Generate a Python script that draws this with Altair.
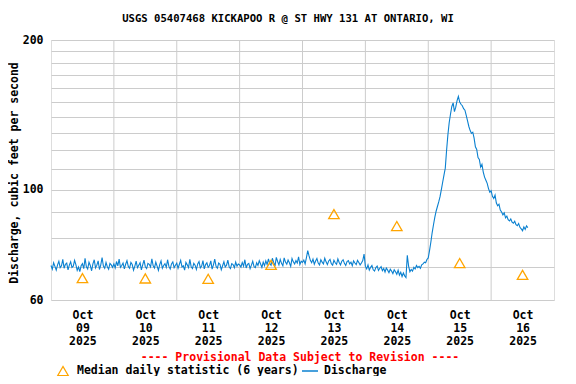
import altair as alt
import pandas as pd

# Half-hourly discharge values (cfs), each list starts at 00:00 of its day
oct09 = [70.4, 69.2, 71.3, 70.1, 68.9, 70.6, 71.8, 69.7, 70.3, 72.4, 69.5, 70.8,
         71.2, 69.0, 70.5, 71.6, 69.8, 70.2, 72.1, 70.7, 68.8, 69.9, 68.4, 70.3,
         71.0, 69.4, 72.8, 70.0, 69.3, 71.5, 70.4, 68.7, 70.9, 72.3, 69.6, 70.5,
         71.9, 69.1, 70.6, 73.0, 70.2, 69.5, 71.4, 70.0, 69.2, 71.1, 70.6, 69.8]
oct10 = [70.9, 69.6, 71.7, 70.3, 72.5, 69.8, 70.4, 71.2, 69.3, 70.8, 72.0, 70.1,
         69.5, 71.4, 70.7, 68.9, 70.2, 71.8, 69.7, 70.5, 71.3, 69.0, 70.6, 72.2,
         70.0, 69.4, 71.1, 70.8, 69.9, 72.6, 70.3, 69.6, 71.5, 70.2, 68.8, 70.7,
         71.9, 69.5, 70.4, 71.0, 69.8, 72.3, 70.1, 69.3, 70.9, 71.6, 69.7, 70.5]
oct11 = [71.2, 69.5, 70.8, 72.1, 69.9, 70.3, 68.9, 71.4, 70.6, 69.7, 72.4, 70.0,
         69.4, 71.1, 70.5, 69.1, 70.9, 71.7, 69.6, 70.2, 72.0, 69.3, 70.7, 71.3,
         69.8, 70.4, 71.9, 69.2, 70.6, 72.5, 70.1, 69.5, 71.2, 70.8, 69.0, 70.3,
         71.6, 69.9, 70.5, 72.2, 70.0, 69.4, 71.0, 70.7, 69.7, 71.5, 70.2, 70.9]
oct12 = [70.6, 69.9, 71.4, 70.2, 72.3, 69.6, 70.8, 71.1, 69.4, 70.5, 71.8, 70.0,
         69.7, 71.3, 70.4, 72.0, 70.9, 69.8, 71.5, 70.3, 71.9, 70.7, 72.6, 71.0,
         70.5, 72.8, 71.4, 70.2, 73.1, 71.7, 70.6, 72.4, 71.1, 70.3, 72.9, 71.5,
         70.8, 72.2, 71.3, 70.1, 72.7, 71.6, 70.9, 72.0, 71.2, 73.3, 70.7, 71.8]
oct13 = [71.4, 72.2, 70.9, 73.0, 75.4, 73.6, 72.1, 71.3, 72.5, 70.8, 71.9, 72.7,
         71.2, 70.6, 72.3, 71.5, 70.9, 72.8, 71.6, 70.7, 71.9, 72.4, 71.0, 70.5,
         72.1, 71.3, 70.8, 72.6, 71.4, 70.6, 71.8, 72.3, 71.1, 70.4, 71.7, 72.0,
         70.9, 71.5, 70.3, 71.9, 71.2, 70.7, 72.1, 71.4, 70.6, 71.2, 72.0, 74.2]
oct14 = [70.1, 69.3, 70.6, 68.9, 69.8, 70.4, 69.0, 68.6, 69.7, 70.2, 68.8, 69.5,
         70.0, 68.7, 69.4, 68.3, 69.6, 68.9, 68.1, 69.2, 68.6, 67.8, 69.0, 68.4,
         67.6, 68.9, 67.3, 68.2, 66.9, 68.0, 67.1, 66.6, 73.8, 70.2, 68.4, 69.1,
         68.6, 69.8, 69.3, 70.4, 69.7, 70.1, 69.5, 70.6, 70.9, 71.5, 71.3, 72.4]
oct15 = [72.9, 75.5, 78.5, 82.0, 85.0, 88.0, 90.5, 92.5, 94.5, 96.8, 100.0, 103.5,
         107.0, 110.5, 120.0, 129.0, 136.5, 142.0, 147.0, 149.5, 143.5, 146.5, 151.0, 154.0,
         150.0, 148.5, 147.5, 145.5, 144.5, 141.0, 137.5, 134.0, 131.5, 129.8, 130.5, 127.0,
         122.0, 120.5, 116.0, 115.0, 111.0, 112.5, 108.5, 106.0, 104.5, 103.0, 100.5, 98.8]
oct16 = [99.5, 97.0, 96.0, 97.5, 94.0, 92.8, 93.5, 91.0, 90.2, 89.0, 89.8, 87.8,
         88.5, 87.0, 86.5, 87.3, 86.0, 85.6, 86.4, 85.0, 84.6, 85.5, 84.0, 83.4,
         82.7, 84.2, 83.2, 84.6, 83.9]
day_starts = ["2025-10-09", "2025-10-10", "2025-10-11", "2025-10-12",
              "2025-10-13", "2025-10-14", "2025-10-15", "2025-10-16"]
day_values = [oct09, oct10, oct11, oct12, oct13, oct14, oct15, oct16]

# Median daily statistic (6 years), plotted at noon each day
median_days = ["2025-10-09", "2025-10-10", "2025-10-11", "2025-10-12",
               "2025-10-13", "2025-10-14", "2025-10-15", "2025-10-16"]
median_vals = [66.4, 66.3, 66.2, 70.6, 89.3, 84.5, 71.2, 67.4]

grid_days = ["2025-10-10", "2025-10-11", "2025-10-12", "2025-10-13",
             "2025-10-14", "2025-10-15", "2025-10-16"]
y_ticks = [60, 70, 80, 90, 100, 110, 120, 130, 140, 150, 160, 170, 180, 190, 200]

rows = []
for start, vals in zip(day_starts, day_values):
    ts = pd.date_range(start + " 00:00", periods=len(vals), freq="30min")
    for t, v in zip(ts, vals):
        rows.append({"time": t.strftime("%Y-%m-%dT%H:%M:%S"), "q": v})
df_q = pd.DataFrame(rows)
df_m = pd.DataFrame({"time": [d + "T12:00:00" for d in median_days], "q": median_vals})
df_g = pd.DataFrame({"time": [d + "T00:00:00" for d in grid_days]})

FONT = "DejaVu Sans Mono"
BLUE = "#0a80d0"
ORANGE = "#ffa500"
FS = 11.5

xscale = alt.Scale(domain=[alt.DateTime(year=2025, month=10, date=9, hours=0),
                           alt.DateTime(year=2025, month=10, date=17, hours=0)])
yscale = alt.Scale(type="log", domain=[60, 200], nice=False)

label_vals = [alt.DateTime(year=2025, month=10, date=d, hours=12) for d in range(9, 17)]

xenc = alt.X("time:T", scale=xscale,
             axis=alt.Axis(values=label_vals, grid=False, ticks=False, domain=False, title=None,
                           labelExpr="[timeFormat(datum.value,'%b'), timeFormat(datum.value,'%d'), timeFormat(datum.value,'%Y')]",
                           labelFont=FONT, labelFontWeight="bold", labelFontSize=FS,
                           labelColor="black", labelPadding=9, labelLineHeight=13,
                           labelAngle=0, labelFlush=False, labelOverlap=False))
yenc = alt.Y("q:Q", scale=yscale,
             axis=alt.Axis(values=y_ticks, grid=True, gridColor="#cccccc", gridWidth=1,
                           ticks=False, domain=False, title=None,
                           labelExpr="(datum.value==60||datum.value==100||datum.value==200) ? datum.value : ''",
                           labelFont=FONT, labelFontWeight="bold", labelFontSize=FS,
                           labelColor="black", labelPadding=8))

grid = alt.Chart(df_g).mark_rule(color="#cccccc", strokeWidth=1).encode(
    x=alt.X("time:T", scale=xscale))

line = alt.Chart(df_q).mark_line(color=BLUE, strokeWidth=1.1).encode(x=xenc, y=yenc)

tri = alt.Chart(df_m).mark_point(shape="triangle-up", filled=False, color=ORANGE,
                                 size=110, strokeWidth=1.3, opacity=1).encode(
    x=alt.X("time:T", scale=xscale), y=alt.Y("q:Q", scale=yscale))


def label(text, x, y, color="black", align="left", angle=0, size=FS):
    return alt.Chart(pd.DataFrame({"t": [text]})).mark_text(
        font=FONT, fontWeight="bold", fontSize=size, color=color, align=align,
        baseline="middle", angle=angle).encode(text="t:N", x=alt.value(x), y=alt.value(y))


title = label("USGS 05407468 KICKAPOO R @ ST HWY 131 AT ONTARIO, WI", 237, -21,
              align="center", size=10.6)
ytitle = label("Discharge, cubic feet per second", -36, 133, align="center", angle=270)
prov = label("---- Provisional Data Subject to Revision ----", 249, 318,
             color="#ff0000", align="center")
leg1 = label("Median daily statistic (6 years)", 26, 331)
leg2 = label("Discharge", 273, 331)
legtri = alt.Chart(pd.DataFrame({"t": [1]})).mark_point(
    shape="triangle-up", filled=False, color=ORANGE, size=110, strokeWidth=1.3, opacity=1).encode(
    x=alt.value(12), y=alt.value(331))
legline = alt.Chart(pd.DataFrame({"t": [1]})).mark_rule(color=BLUE, strokeWidth=1.5).encode(
    x=alt.value(251), x2=alt.value(267), y=alt.value(331))

chart = alt.layer(grid, line, tri, title, ytitle, prov, leg1, leg2, legtri, legline).properties(
    width=503, height=260,
    autosize=alt.AutoSizeParams(type="none"),
    padding={"left": 43, "top": 32, "right": 14, "bottom": 76},
).configure_view(stroke="black", strokeWidth=1.2).configure(background="white")

chart.save("out.html", embed_options={"renderer": "svg", "actions": False})
